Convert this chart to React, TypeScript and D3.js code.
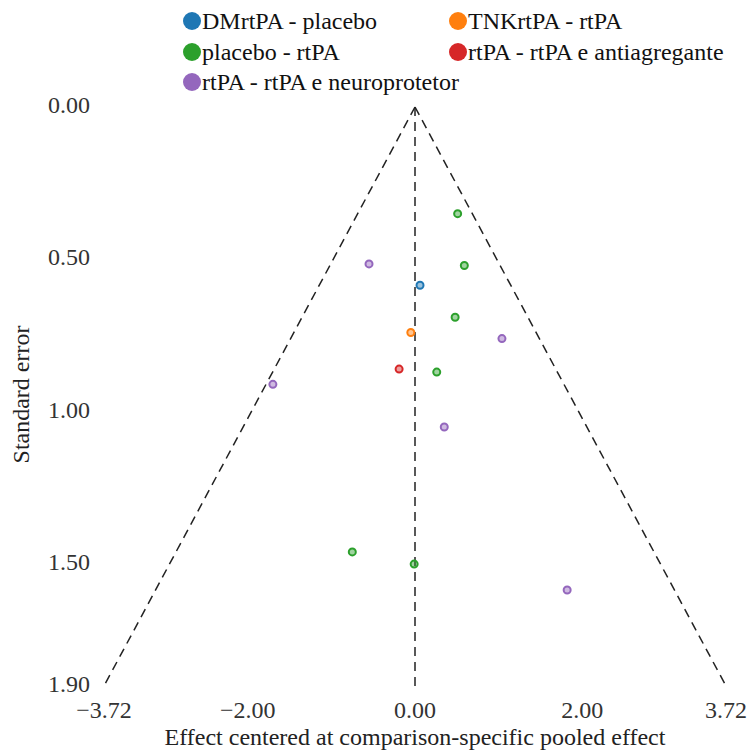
import React from "react";
import * as d3 from "d3";

// Comparison groups and their colours
const comparisons = [
  "DMrtPA - placebo",
  "TNKrtPA - rtPA",
  "placebo - rtPA",
  "rtPA - rtPA e antiagregante",
  "rtPA - rtPA e neuroprotetor",
];
const colors = ["#1f77b4", "#ff7f0e", "#2ca02c", "#d62728", "#9467bd"];

// Study points: centered effect, standard error, comparison index
const effects = [0.51, -0.55, 0.59, 0.06, 0.48, -0.05, 1.04, -0.19, 0.26, -1.70, 0.35, -0.75, -0.01, 1.82];
const stdErrors = [0.35, 0.515, 0.52, 0.585, 0.69, 0.74, 0.76, 0.86, 0.87, 0.91, 1.05, 1.46, 1.50, 1.585];
const groups = [2, 4, 2, 0, 2, 1, 4, 3, 2, 4, 4, 2, 2, 4];

const xTicks = [-3.72, -2, 0, 2, 3.72];
const yTicks = [0, 0.5, 1, 1.5, 1.9];
const seMax = 1.9;
const xLimit = 3.72;

const W = 749;
const H = 751;

export default function App() {
  const x = d3.scaleLinear().domain([-xLimit, xLimit]).range([104, 726]);
  const y = d3.scaleLinear().domain([0, seMax]).range([107, 686]);
  const fmt = d3.format(".2f");

  const funnel = d3.line<[number, number]>()
    .x((d) => x(d[0]))
    .y((d) => y(d[1]));

  const leftEdge: [number, number][] = [[0, 0], [-xLimit, seMax]];
  const rightEdge: [number, number][] = [[0, 0], [xLimit, seMax]];
  const center: [number, number][] = [[0, 0], [0, seMax]];

  const legendPos = [
    [192, 21],
    [458, 21],
    [192, 52],
    [458, 52],
    [192, 82],
  ];

  const serif = "Liberation Serif, Times New Roman, Times, serif";
  const fs = 24;

  return (
    <svg
      width={W}
      height={H}
      style={{ position: "absolute", left: 0, top: 0, background: "#fff", fontFamily: serif }}
    >
      {/* legend */}
      {comparisons.map((c, i) => (
        <g key={c} transform={`translate(${legendPos[i][0]},${legendPos[i][1]})`}>
          <circle r={9} fill={colors[i]} />
          <text x={10} dy="0.33em" fontSize={fs} fill="#111" style={{ fontFamily: serif }}>
            {c}
          </text>
        </g>
      ))}

      {/* funnel and pooled-effect line */}
      <g fill="none" stroke="#222" strokeWidth={1.5} strokeDasharray="9,6">
        <path d={funnel(leftEdge) || ""} />
        <path d={funnel(rightEdge) || ""} />
        <path d={funnel(center) || ""} />
      </g>

      {/* y tick labels */}
      {yTicks.map((t) => (
        <text key={t} x={90} y={y(t) - 2} dy="0.33em" textAnchor="end" fontSize={fs} fill="#333" style={{ fontFamily: serif }}>
          {fmt(t)}
        </text>
      ))}

      {/* x tick labels */}
      {xTicks.map((t) => (
        <text key={t} x={x(t)} y={710} dy="0.33em" textAnchor="middle" fontSize={fs} fill="#333" style={{ fontFamily: serif }}>
          {fmt(t)}
        </text>
      ))}

      {/* axis titles */}
      <text x={415} y={737} dy="0.33em" textAnchor="middle" fontSize={fs} fill="#222" style={{ fontFamily: serif }}>
        Effect centered at comparison-specific pooled effect
      </text>
      <text
        transform={`translate(21,${y(seMax / 2) - 2}) rotate(-90)`}
        dy="0.33em"
        textAnchor="middle"
        fontSize={fs}
        fill="#222"
        style={{ fontFamily: serif }}
      >
        Standard error
      </text>

      {/* study points */}
      {effects.map((e, i) => (
        <circle
          key={i}
          cx={x(e)}
          cy={y(stdErrors[i])}
          r={3.5}
          fill={colors[groups[i]]}
          fillOpacity={0.45}
          stroke={colors[groups[i]]}
          strokeWidth={2}
        />
      ))}
    </svg>
  );
}
